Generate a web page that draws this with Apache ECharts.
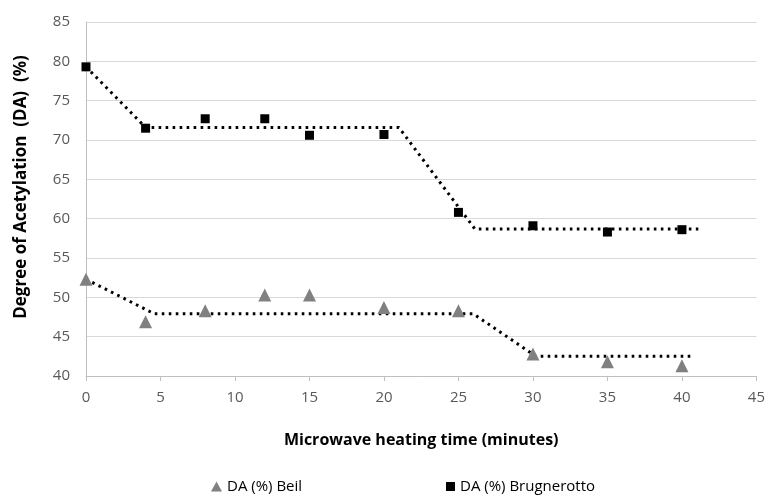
<!DOCTYPE html>
<html>
<head>
<meta charset="utf-8">
<style>
  html, body { margin: 0; padding: 0; background: #ffffff; }
  #chart { width: 768px; height: 496px; }
</style>
<script src="https://cdn.jsdelivr.net/npm/echarts@6/dist/echarts.min.js"></script>
</head>
<body>
<div id="chart"></div>
<script>
// Heating times (minutes) at which DA was measured
const times = [0, 4, 8, 12, 15, 20, 25, 30, 35, 40];
// Degree of acetylation (%) by each method
const daBeil = [52.3, 46.9, 48.3, 50.3, 50.3, 48.7, 48.3, 42.8, 41.8, 41.3];
const daBrugnerotto = [79.3, 71.5, 72.7, 72.7, 70.6, 70.7, 60.8, 59.1, 58.3, 58.6];

// Piecewise trend guides (x, y breakpoints)
const trendBeilX = [0, 4.6, 26.0, 30.2, 40.8];
const trendBeilY = [52.3, 47.9, 47.9, 42.5, 42.5];
const trendBrugX = [0, 4.0, 21.0, 26.1, 41.1];
const trendBrugY = [79.3, 71.6, 71.6, 58.7, 58.7];

// Axis ticks
const xTicks = { min: 0, max: 45, interval: 5 };
const yTicks = { min: 40, max: 85, interval: 5 };

const FONT = '"Open Sans", "Liberation Sans", sans-serif';

const zip = (xs, ys) => xs.map((x, i) => [x, ys[i]]);

const chart = echarts.init(document.getElementById('chart'), null, { renderer: 'canvas' });

const dotted = { color: '#000000', width: 3, type: [2.6, 4.4], cap: 'butt' };
const legendText = { fontFamily: FONT, fontSize: 15, color: '#000000' };

chart.setOption({
  animation: false,
  backgroundColor: '#ffffff',
  textStyle: { fontFamily: FONT },
  grid: { left: 86, right: 10, top: 22, bottom: 120, containLabel: false },
  xAxis: {
    type: 'value',
    min: xTicks.min, max: xTicks.max, interval: xTicks.interval,
    name: 'Microwave heating time (minutes)',
    nameLocation: 'middle',
    nameGap: 56,
    nameTextStyle: { fontFamily: FONT, fontSize: 16, fontWeight: 'bold', color: '#000000' },
    axisLine: { show: true, lineStyle: { color: '#bfbfbf', width: 1 } },
    axisTick: { show: true, inside: false, length: 5, lineStyle: { color: '#bfbfbf' } },
    axisLabel: { fontFamily: FONT, fontSize: 15, color: '#595959', margin: 14 },
    splitLine: { show: false }
  },
  yAxis: {
    type: 'value',
    min: yTicks.min, max: yTicks.max, interval: yTicks.interval,
    name: 'Degree of Acetylation  (DA)  (%)',
    nameLocation: 'middle',
    nameGap: 56,
    nameRotate: 90,
    nameTextStyle: {
      fontFamily: FONT, fontSize: 17, fontWeight: 'bold', color: '#000000',
      padding: [0, 0, 0, 24]
    },
    axisLine: { show: true, lineStyle: { color: '#bfbfbf', width: 1 } },
    axisTick: { show: false },
    axisLabel: { fontFamily: FONT, fontSize: 15, color: '#595959', margin: 16 },
    splitLine: { show: true, lineStyle: { color: '#d9d9d9', width: 1 } }
  },
  legend: [
    {
      left: 211,
      top: 479,
      padding: 0,
      itemWidth: 11,
      itemHeight: 10,
      itemGap: 0,
      textStyle: legendText,
      data: [{ name: 'DA (%) Beil', icon: 'triangle', itemStyle: { color: '#808080' } }]
    },
    {
      left: 446,
      top: 479,
      padding: 0,
      itemWidth: 9,
      itemHeight: 9,
      itemGap: 0,
      textStyle: legendText,
      data: [{ name: 'DA (%) Brugnerotto', icon: 'rect', itemStyle: { color: '#000000' } }]
    }
  ],
  series: [
    {
      name: 'trend Beil',
      type: 'line',
      data: zip(trendBeilX, trendBeilY),
      showSymbol: false,
      symbol: 'none',
      lineStyle: dotted,
      z: 2,
      silent: true
    },
    {
      name: 'trend Brugnerotto',
      type: 'line',
      data: zip(trendBrugX, trendBrugY),
      showSymbol: false,
      symbol: 'none',
      lineStyle: dotted,
      z: 2,
      silent: true
    },
    {
      name: 'DA (%) Beil',
      type: 'scatter',
      data: zip(times, daBeil),
      symbol: 'triangle',
      symbolSize: 13,
      itemStyle: { color: '#808080', opacity: 1 },
      z: 3
    },
    {
      name: 'DA (%) Brugnerotto',
      type: 'scatter',
      data: zip(times, daBrugnerotto),
      symbol: 'rect',
      symbolSize: 9,
      itemStyle: { color: '#000000', opacity: 1 },
      z: 3
    }
  ]
});
</script>
</body>
</html>
